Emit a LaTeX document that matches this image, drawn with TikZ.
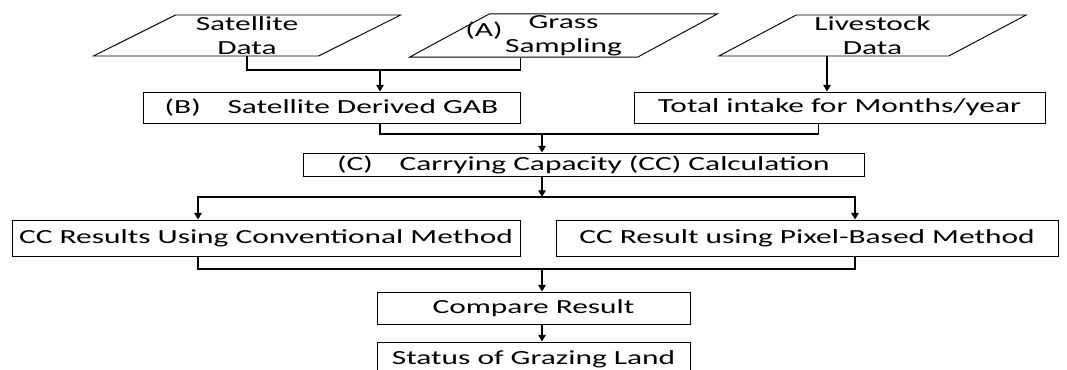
\documentclass[tikz,border=0pt]{standalone}
\usepackage{fontspec}
\setmainfont{Carlito}[FakeStretch=1.57]
\usepackage{tikz}
\usetikzlibrary{ arrows.meta, calc, positioning, shapes.geometric }
\tikzset{
>={Triangle[length=5pt,width=5.5pt]}, % small solid arrow heads
every node/.style={inner sep=1pt, font=\fontsize{15}{18}\selectfont},
box/.style={draw, line width=0.7pt, rectangle, inner ysep=1pt}, % process boxes
data/.style={draw, line width=0.7pt, trapezium, trapezium left angle=34,
  trapezium right angle=146, trapezium stretches=true,
  minimum width=231pt, minimum height=30.75pt, align=center}, % input data
link/.style={line width=1.2pt}, % plain connector
flow/.style={line width=1.2pt, ->}, % connector with arrow
}

\begin{document}
\begin{tikzpicture}[x=0.75pt,y=-0.75pt]
  \useasboundingbox (0,0) rectangle (1067,369);
  \clip (0,0) rectangle (1067,369);
  % inputs
  \node[data] (sat) at (247,35.5) {Satellite\\Data};
  \node[data] (grass) at (563.5,35.5) {Grass\\Sampling};
  \node (lblA) at (484,31) {(A)};
  \node[data] (live) at (872.5,35.5) {Livestock\\Data};
  % processing
  \node[box, minimum width=282.75pt, minimum height=23.25pt] (gab) at (331.5,107.5) {(B)\hspace{20pt}Satellite Derived GAB};
  \node[box, minimum width=308.25pt, minimum height=23.25pt] (intake) at (839.5,107.5) {Total intake for Months/year};
  \node[box, minimum width=420.75pt, minimum height=17.25pt, inner ysep=0pt] (calc) at (583.5,164.5) {(C)\hspace{20pt}Carrying Capacity (CC) Calculation};
  \node[box, minimum width=381pt, minimum height=27pt] (conv) at (266,238) {CC Results Using Conventional Method};
  \node[box, minimum width=376.5pt, minimum height=27pt] (pixel) at (807,238) {CC Result using Pixel-Based Method};
  \node[box, minimum width=234.75pt, minimum height=24pt] (cmp) at (533.5,308) {Compare Result};
  \node[box, minimum width=234.75pt, minimum height=25.5pt] (status) at (533.5,359) {Status of Grazing Land};

  % junctions of the connectors
  \coordinate (j1) at (380,70);
  \coordinate (j2) at (542,134);
  \coordinate (j3) at (542,197);
  \coordinate (j4) at (542,269);
  \coordinate (lv) at (827,0);

  \draw[link] (sat.south) |- (j1) -| (gab.east |- grass.south);
  \draw[flow] (j1) -- (gab.north -| j1);
  \draw[flow] (live.south -| lv) -- (intake.north -| lv);
  \draw[link] (gab.south -| j1) |- (j2) -| ($(intake.south)+(-21,0)$);
  \draw[flow] (j2) -- (calc.north -| j2);
  \draw[flow] (calc.south -| j3) -- (j3);
  \draw[flow] (j3) -| ($(conv.north)+(-68,0)$);
  \draw[flow] (j3) -| ($(pixel.north)+(48,0)$);
  \draw[link] ($(conv.south)+(-68,0)$) |- (j4) -| ($(pixel.south)+(48,0)$);
  \draw[flow] (j4) -- (cmp.north -| j4);
  \draw[flow] (cmp.south -| j4) -- (status.north -| j4);
\end{tikzpicture}
\end{document}
